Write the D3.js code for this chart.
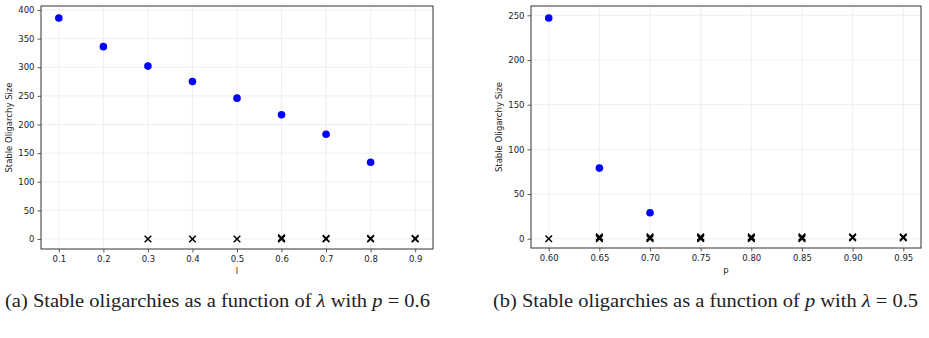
<!DOCTYPE html>
<html>
<head>
<meta charset="utf-8">
<script src="https://cdn.jsdelivr.net/npm/d3@7"></script>
<style>
  body { margin: 0; background: #fff; }
  svg { display: block; }
  .cap { font-family: "Liberation Serif", "DejaVu Serif", serif; }
</style>
</head>
<body>
<div id="chart"></div>
<script>
// Panel (a): size vs lambda, p = 0.6
const lambdaTicks = [0.1, 0.2, 0.3, 0.4, 0.5, 0.6, 0.7, 0.8, 0.9];
const lambdaStable = [0.1, 0.2, 0.3, 0.4, 0.5, 0.6, 0.7, 0.8];
const lambdaStableSize = [386, 336, 302, 275, 246, 217, 183, 134];
const lambdaCross = [0.3, 0.4, 0.5, 0.6, 0.6, 0.6, 0.7, 0.7, 0.8, 0.8, 0.9, 0.9];
const lambdaCrossSize = [0, 0, 0, 0, 1, 2, 0, 1, 0, 1, 0, 1];
const lambdaYTicks = [0, 50, 100, 150, 200, 250, 300, 350, 400];

// Panel (b): size vs p, lambda = 0.5
const pTicks = [0.60, 0.65, 0.70, 0.75, 0.80, 0.85, 0.90, 0.95];
const pStable = [0.60, 0.65, 0.70];
const pStableSize = [247, 79, 29];
const pCross = [0.60, 0.65, 0.65, 0.65, 0.70, 0.70, 0.70, 0.75, 0.75, 0.75,
                0.80, 0.80, 0.80, 0.85, 0.85, 0.85, 0.90, 0.90, 0.95, 0.95];
const pCrossSize = [0, 0, 1, 2, 0, 1, 2, 0, 1, 2, 0, 1, 2, 0, 1, 2, 1, 2, 1, 2];
const pYTicks = [0, 50, 100, 150, 200, 250];

const captions = [
    ['(a) Stable oligarchies as a function of ', 'λ', ' with ', 'p', ' = 0.6'],
    ['(b) Stable oligarchies as a function of ', 'p', ' with ', 'λ', ' = 0.5']
];

const width = 929;
const height = 338;
const axisColor = '#333';
const gridColor = '#ebebeb';

const svg = d3.select('#chart')
    .append('svg')
    .attr('width', width)
    .attr('height', height);

function drawPanel(cfg) {
    const x = d3.scaleLinear().domain(cfg.xDomain).range([cfg.left, cfg.right]);
    const y = d3.scaleLinear().domain(cfg.yDomain).range([cfg.bottom, cfg.top]);
    const g = svg.append('g');

    // grid
    g.selectAll('.vgrid').data(cfg.xTicks).enter().append('line')
        .attr('x1', d => x(d)).attr('x2', d => x(d))
        .attr('y1', cfg.top).attr('y2', cfg.bottom)
        .attr('stroke', gridColor).attr('stroke-width', 0.8);
    g.selectAll('.hgrid').data(cfg.yTicks).enter().append('line')
        .attr('x1', cfg.left).attr('x2', cfg.right)
        .attr('y1', d => y(d)).attr('y2', d => y(d))
        .attr('stroke', gridColor).attr('stroke-width', 0.8);

    // axes
    const xAxis = d3.axisBottom(x).tickValues(cfg.xTicks)
        .tickFormat(d3.format(cfg.xFormat)).tickSize(3.5).tickPadding(3);
    const yAxis = d3.axisLeft(y).tickValues(cfg.yTicks)
        .tickFormat(d3.format('d')).tickSize(3.5).tickPadding(3);

    [g.append('g').attr('transform', `translate(0,${cfg.bottom})`).call(xAxis),
     g.append('g').attr('transform', `translate(${cfg.left},0)`).call(yAxis)]
        .forEach(a => {
            a.select('.domain').remove();
            a.selectAll('line').attr('stroke', axisColor).attr('stroke-width', 0.8);
            a.selectAll('text').attr('fill', '#222')
                .style('font-family', 'DejaVu Sans').style('font-size', '8.5px');
        });

    // frame
    g.append('rect')
        .attr('x', cfg.left).attr('y', cfg.top)
        .attr('width', cfg.right - cfg.left).attr('height', cfg.bottom - cfg.top)
        .attr('fill', 'none').attr('stroke', axisColor).attr('stroke-width', 1);

    // crosses
    const s = 3.3;
    g.selectAll('.cross').data(cfg.cross.map((v, i) => [v, cfg.crossSize[i]]))
        .enter().append('path')
        .attr('d', d => {
            const cx = x(d[0]), cy = y(d[1]);
            return `M${cx - s},${cy - s}L${cx + s},${cy + s}M${cx - s},${cy + s}L${cx + s},${cy - s}`;
        })
        .attr('stroke', '#000').attr('stroke-width', 1.5).attr('fill', 'none');

    // stable points
    g.selectAll('.dot').data(cfg.stable.map((v, i) => [v, cfg.stableSize[i]]))
        .enter().append('circle')
        .attr('cx', d => x(d[0])).attr('cy', d => y(d[1]))
        .attr('r', 3.8).attr('fill', '#0000ff');

    // labels
    g.append('text')
        .attr('x', (cfg.left + cfg.right) / 2).attr('y', cfg.bottom + 25)
        .attr('text-anchor', 'middle').attr('fill', '#222')
        .style('font-family', 'DejaVu Sans').style('font-size', '8.5px')
        .text(cfg.xLabel);
    g.append('text')
        .attr('transform', `translate(${cfg.yLabelX},${(cfg.top + cfg.bottom) / 2}) rotate(-90)`)
        .attr('text-anchor', 'middle').attr('fill', '#222')
        .style('font-family', 'DejaVu Sans').style('font-size', '8.5px')
        .text('Stable Oligarchy Size');

    // caption
    const cap = svg.append('text')
        .attr('class', 'cap')
        .attr('x', cfg.capX).attr('y', 307)
        .attr('textLength', cfg.capW).attr('lengthAdjust', 'spacingAndGlyphs')
        .attr('fill', '#222')
        .style('font-size', '18px');
    cfg.caption.forEach((part, i) => {
        cap.append('tspan')
            .style('font-style', (i === 1 || i === 3) ? 'italic' : 'normal')
            .text(part);
    });
}

drawPanel({
    left: 41, right: 433, top: 6, bottom: 249,
    xDomain: [0.06, 0.94], yDomain: [-17.5, 407],
    xTicks: lambdaTicks, yTicks: lambdaYTicks, xFormat: '.1f',
    stable: lambdaStable, stableSize: lambdaStableSize,
    cross: lambdaCross, crossSize: lambdaCrossSize,
    xLabel: 'l', yLabelX: 12,
    caption: captions[0], capX: 5, capW: 425
});

drawPanel({
    left: 531, right: 921, top: 6, bottom: 248,
    xDomain: [0.5825, 0.9675], yDomain: [-10.4, 260.4],
    xTicks: pTicks, yTicks: pYTicks, xFormat: '.2f',
    stable: pStable, stableSize: pStableSize,
    cross: pCross, crossSize: pCrossSize,
    xLabel: 'p', yLabelX: 502,
    caption: captions[1], capX: 493, capW: 425
});
</script>
</body>
</html>
